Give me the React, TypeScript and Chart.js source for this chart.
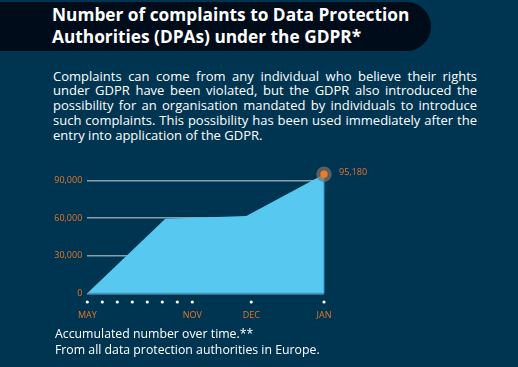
import React, { useEffect, useRef } from "react";
import { Chart, registerables } from "chart.js";

Chart.register(...registerables);

// ---- data ----
const xTickPositions = [0, 1, 2, 3, 4, 5, 6, 7, 10.93, 15.78];
const xTickLabels = ["MAY", "", "", "", "", "", "", "NOV", "DEC", "JAN"];
const pointX = [0, 5.2, 10.6, 15.78];
const pointY = [0, 59500, 61800, 95180];
const yTicks = [0, 30000, 60000, 90000];
const lastLabel = "95,180";

const BG = "#003552";
const ORANGE = "#e4762c";
const FILL = "#57c9f1";

const bodyLines = [
  "Complaints can come from any individual who believe their rights",
  "under GDPR have been violated, but the GDPR also introduced the",
  "possibility for an organisation mandated by individuals to introduce",
  "such complaints. This possibility has been used immediately after the",
  "entry into application of the GDPR.",
];

const CANVAS_TOP = 150;
const CANVAS_H = 180;

export default function App() {
  const ref = useRef<HTMLCanvasElement>(null);

  useEffect(() => {
    const canvas = ref.current!;
    const lastIdx = pointX.length - 1;
    const last = { x: pointX[lastIdx], y: pointY[lastIdx] };

    const dotsPlugin = {
      id: "xdots",
      afterDraw(chart: any) {
        const ctx = chart.ctx;
        const xs = chart.scales.x;
        const bottom = chart.chartArea.bottom;
        ctx.save();
        ctx.fillStyle = "#ffffff";
        xs.ticks.forEach((t: any) => {
          const px = xs.getPixelForValue(t.value);
          ctx.beginPath();
          ctx.arc(px, bottom + 8.7, 1.6, 0, Math.PI * 2);
          ctx.fill();
        });
        // value label
        const m0 = chart.getDatasetMeta(0);
        const q = m0.data[0];
        ctx.fillStyle = ORANGE;
        ctx.font = "9px 'Open Sans'";
        ctx.textAlign = "left";
        ctx.textBaseline = "middle";
        ctx.fillText(lastLabel, q.x + 15, q.y - 1.5);
        ctx.restore();
      },
      beforeDatasetDraw(chart: any, args: any) {
        if (args.index !== 1) return;
        // edge lines of the area (drawn under the halo)
        const ctx = chart.ctx;
        const bottom = chart.chartArea.bottom;
        const meta = chart.getDatasetMeta(2);
        const p = meta.data[meta.data.length - 1];
        ctx.save();
        ctx.strokeStyle = "#2f93c2";
        ctx.lineWidth = 1;
        ctx.beginPath();
        ctx.moveTo(p.x, p.y);
        ctx.lineTo(p.x, bottom);
        ctx.lineTo(chart.scales.x.getPixelForValue(pointX[0]), bottom);
        ctx.stroke();
        ctx.restore();
      },
    };

    const chart = new Chart(canvas, {
      type: "line",
      data: {
        datasets: [
          {
            data: [last],
            pointRadius: 3.7,
            pointBackgroundColor: "#f27a22",
            pointBorderWidth: 0,
            showLine: false,
            clip: false,
          },
          {
            data: [last],
            pointRadius: 7.7,
            pointBackgroundColor: "rgba(125,112,105,0.7)",
            pointBorderWidth: 0,
            showLine: false,
            clip: false,
          },
          {
            data: pointX.map((x, i) => ({ x, y: pointY[i] })),
            fill: "origin",
            backgroundColor: FILL,
            borderWidth: 0,
            borderColor: FILL,
            pointRadius: 0,
            tension: 0,
          },
        ],
      },
      options: {
        responsive: false,
        animation: false,
        events: [],
        layout: { padding: { top: 24.2, right: 194, left: 0, bottom: 0 } },
        plugins: { legend: { display: false }, tooltip: { enabled: false } },
        scales: {
          x: {
            type: "linear",
            min: 0,
            max: 15.78,
            afterBuildTicks: (s: any) => {
              s.ticks = xTickPositions.map((v) => ({ value: v }));
            },
            afterFit: (s: any) => {
              s.height = CANVAS_H - (293.3 - CANVAS_TOP);
            },
            grid: { display: false },
            border: { display: false },
            ticks: {
              autoSkip: false,
              maxRotation: 0,
              color: ORANGE,
              padding: 9,
              font: { size: 9, family: "'Open Sans'" },
              callback: (_v: any, i: number) => xTickLabels[i],
            },
          },
          y: {
            min: 0,
            max: pointY[pointY.length - 1],
            afterBuildTicks: (s: any) => {
              s.ticks = yTicks.map((v) => ({ value: v }));
            },
            afterFit: (s: any) => {
              s.width = 87.3;
            },
            grid: { color: "#8a9fae", lineWidth: 1.5, drawTicks: false },
            border: { display: false },
            ticks: {
              color: ORANGE,
              padding: 5,
              font: { size: 9, family: "'Open Sans'" },
              callback: (v: any) => Number(v).toLocaleString("en-US"),
            },
          },
        },
      },
      plugins: [dotsPlugin],
    });
    return () => chart.destroy();
  }, []);

  return (
    <div
      style={{
        position: "fixed",
        left: 0,
        top: 0,
        width: 518,
        height: 367,
        background: BG,
        overflow: "hidden",
        fontFamily: "'Open Sans', sans-serif",
        color: "#ffffff",
      }}
    >
      <div
        style={{
          position: "absolute",
          left: 0,
          top: 2,
          width: 431,
          height: 49,
          background: "#000c1a",
          borderRadius: "0 25px 25px 0",
        }}
      />
      <div
        style={{
          position: "absolute",
          left: 52,
          top: 4.2,
          fontSize: 17.3,
          lineHeight: "22px",
          fontWeight: 700,
          whiteSpace: "nowrap",
        }}
      >
        <div>Number of complaints to Data Protection</div>
        <div>Authorities (DPAs) under the GDPR*</div>
      </div>
      <div
        style={{
          position: "absolute",
          left: 53,
          top: 68.6,
          width: 424,
          fontSize: 13,
          lineHeight: "14.75px",
        }}
      >
        {bodyLines.map((l, i) => (
          <div
            key={i}
            style={{
              textAlign: i < bodyLines.length - 1 ? "justify" : "left",
              textAlignLast: i < bodyLines.length - 1 ? "justify" : "left",
              whiteSpace: "nowrap",
            } as any}
          >
            {l}
          </div>
        ))}
      </div>
      <canvas
        ref={ref}
        width={518}
        height={CANVAS_H}
        style={{ position: "absolute", left: 0, top: CANVAS_TOP }}
      />
      <div
        style={{
          position: "absolute",
          left: 55,
          top: 325.8,
          fontSize: 12.3,
          lineHeight: "16.4px",
        }}
      >
        <div>Accumulated number over time.**</div>
        <div>From all data protection authorities in Europe.</div>
      </div>
    </div>
  );
}
